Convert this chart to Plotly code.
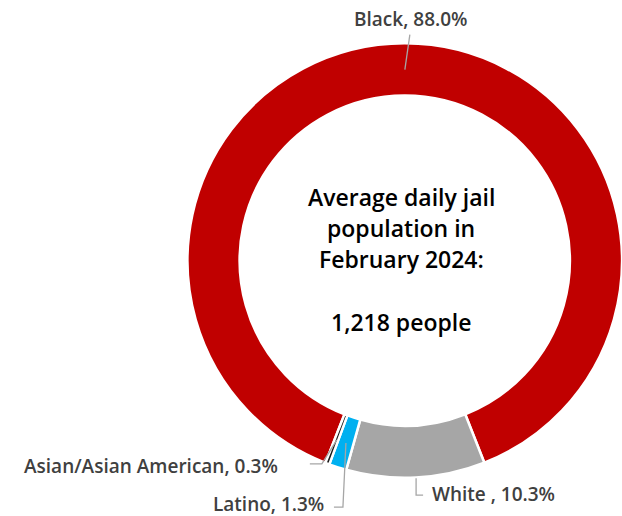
import math
import plotly.graph_objects as go

# Jail population by race, February 2024
labels = ["Black", "White ", "Latino", "Asian/Asian American"]
values = [88.0, 10.3, 1.3, 0.3]
colors = ["#C00000", "#A6A6A6", "#00B0F0", "#1A1A1A"]
center_lines = ["Average daily jail", "population in", "February 2024:", "", "1,218 people"]

W, H = 622, 516
CX, CY = 405.0, 261.0          # ring centre in pixels
R_OUT, HOLE = 217.5, 0.76
R_MID = R_OUT * (1 + HOLE) / 2
ROTATION = 201.4
FONT = "Open Sans"
LABEL_COLOR = "#404040"
LINE_COLOR = "#A6A6A6"


def px(x):
    return x / W


def py(y):
    return 1 - y / H


def slice_mid_angles():
    total = sum(values)
    out, cum = [], 0.0
    for v in values:
        out.append(ROTATION + (cum + v / 2) / total * 360)
        cum += v
    return out


def ring_point(angle_deg, r):
    a = math.radians(angle_deg)
    return CX + r * math.sin(a), CY - r * math.cos(a)


fig = go.Figure(
    go.Pie(
        labels=labels,
        values=values,
        sort=False,
        direction="clockwise",
        rotation=ROTATION,
        hole=HOLE,
        marker=dict(colors=colors, line=dict(color="white", width=2.5)),
        textinfo="none",
        hoverinfo="label+percent",
        showlegend=False,
        domain=dict(x=[(CX - R_OUT) / W, 1.0], y=[0.07, 0.92]),
    )
)

mids = slice_mid_angles()
shapes, annotations = [], []

# leader line routes (pixel offsets from the slice anchor) and label placement
routes = {
    "Black": dict(r=R_MID, pts=[(5, -35)], lab=(411, 19), anchor="center"),
    "White ": dict(r=R_OUT, pts=[(0, 17), (7, 17)], lab=(431, 494), anchor="left"),
    "Latino": dict(r=R_MID, pts=[(-3, 64), (-12, 64)], lab=(325, 504), anchor="right"),
    "Asian/Asian American": dict(r=R_MID, pts=[(-15, 24), (-27, 24)], lab=(279, 466), anchor="right"),
}

for lab, val, ang in zip(labels, values, mids):
    rt = routes[lab]
    x0, y0 = ring_point(ang, rt["r"])
    path = f"M {px(x0)},{py(y0)}"
    for dx, dy in rt["pts"]:
        path += f" L {px(x0 + dx)},{py(y0 + dy)}"
    shapes.append(dict(type="path", path=path, xref="paper", yref="paper",
                       line=dict(color=LINE_COLOR, width=1.3)))
    lx, ly = rt["lab"]
    annotations.append(dict(
        x=px(lx), y=py(ly), xref="paper", yref="paper",
        text=f"{lab}, {val:.1f}%", showarrow=False, borderpad=0,
        xanchor=rt["anchor"], yanchor="middle",
        font=dict(family=FONT, size=19, color=LABEL_COLOR, weight=600),
    ))

# centre caption
y_lines = [197, 228, 259, 290, 322]
for txt, yy in zip(center_lines, y_lines):
    if not txt:
        continue
    annotations.append(dict(
        x=px(401), y=py(yy), xref="paper", yref="paper", text=txt,
        showarrow=False, xanchor="center", yanchor="middle",
        font=dict(family=FONT, size=23, color="#000000", weight=600),
    ))

fig.update_layout(
    width=W, height=H,
    margin=dict(l=0, r=0, t=0, b=0),
    paper_bgcolor="white", plot_bgcolor="white",
    shapes=shapes, annotations=annotations,
)

fig.write_html("out.html")
